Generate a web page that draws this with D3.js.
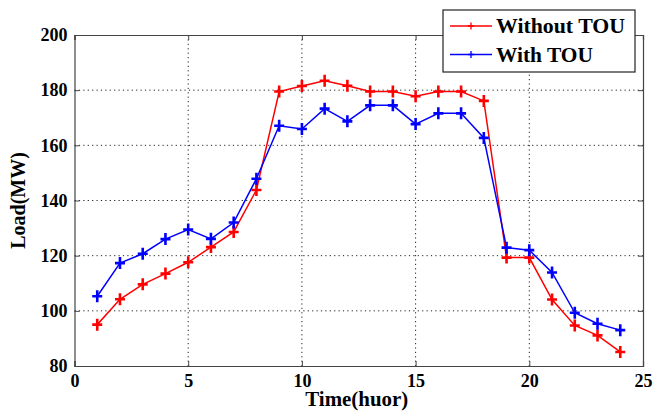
<!DOCTYPE html>
<html><head><meta charset="utf-8">
<script src="https://cdn.jsdelivr.net/npm/d3@7"></script>
<style>body{margin:0;background:#fff}svg{display:block}</style>
</head><body>
<svg id="c" width="653" height="415"></svg>
<script>
const hours = d3.range(1, 25);
const withoutTOU = [95, 104.2, 109.6, 113.5, 117.6, 123.1, 128.6, 143.8, 179.5, 181.5, 183.4, 181.6, 179.5, 179.5, 177.8, 179.5, 179.5, 176.1, 119.3, 119.3, 104.1, 94.7, 91.1, 85.1];
const withTOU = [105.3, 117.3, 120.7, 126.0, 129.5, 126.1, 132.0, 147.9, 167.1, 165.9, 173.3, 168.7, 174.5, 174.5, 167.7, 171.6, 171.6, 162.7, 122.9, 122.0, 113.9, 99.3, 95.3, 93.0];
const xTicks = [0, 5, 10, 15, 20, 25];
const yTicks = [80, 100, 120, 140, 160, 180, 200];
const seriesNames = ["Without TOU", "With TOU"];
const seriesColors = ["#ff0000", "#0000ff"];

const svg = d3.select("#c");
const L = 74.5, R = 643, T = 35, B = 366;
const x = d3.scaleLinear().domain([0, 25]).range([L, R]);
const y = d3.scaleLinear().domain([80, 200]).range([B, T]);
const font = "'Liberation Serif','Times New Roman',serif";

// grid
const g = svg.append("g");
g.selectAll(".gx").data(xTicks.slice(1, -1)).join("line")
  .attr("x1", d => x(d)).attr("x2", d => x(d)).attr("y1", T).attr("y2", B)
  .attr("stroke", "#222").attr("stroke-width", 1).attr("stroke-dasharray", "1.2,3.2");
g.selectAll(".gy").data(yTicks.slice(1, -1)).join("line")
  .attr("y1", d => y(d)).attr("y2", d => y(d)).attr("x1", L).attr("x2", R)
  .attr("stroke", "#222").attr("stroke-width", 1).attr("stroke-dasharray", "1.2,3.2");

// axes
const ax = svg.append("g").attr("transform", `translate(0,${B})`)
  .call(d3.axisBottom(x).tickValues(xTicks).tickSize(-5).tickPadding(8));
const axT = svg.append("g").attr("transform", `translate(0,${T})`)
  .call(d3.axisTop(x).tickValues(xTicks).tickSize(-5).tickFormat(""));
const ay = svg.append("g").attr("transform", `translate(${L},0)`)
  .call(d3.axisLeft(y).tickValues(yTicks).tickSize(-5).tickPadding(7));
const ayR = svg.append("g").attr("transform", `translate(${R},0)`)
  .call(d3.axisRight(y).tickValues(yTicks).tickSize(-5).tickFormat(""));
[ax, axT, ay, ayR].forEach(a => {
  a.select(".domain").attr("stroke", "#444").attr("stroke-width", 1.2);
  a.selectAll(".tick line").attr("stroke", "#444");
  a.selectAll("text").attr("font-family", font).attr("font-weight", "bold")
    .attr("font-size", 18).attr("fill", "#000");
});
ax.selectAll("text").attr("dy", "0.72em");

// lines
const line = d3.line().x((d, i) => x(hours[i])).y(d => y(d));
function plus(sel, color, w) {
  sel.append("path")
    .attr("d", "M-5,0L5,0M0,-6L0,6")
    .attr("stroke", color).attr("stroke-width", w);
}
[withoutTOU, withTOU].forEach((data, k) => {
  svg.append("path").datum(data).attr("d", line)
    .attr("fill", "none").attr("stroke", seriesColors[k]).attr("stroke-width", 1.5);
  svg.append("g").selectAll("g").data(data).join("g")
    .attr("transform", (d, i) => `translate(${x(hours[i])},${y(d)})`)
    .each(function () { plus(d3.select(this), seriesColors[k], 2.6); });
});

// legend
const lg = svg.append("g");
lg.append("rect").attr("x", 443).attr("y", 10).attr("width", 192).attr("height", 62)
  .attr("fill", "#fff").attr("stroke", "#222").attr("stroke-width", 1.2);
seriesNames.forEach((n, k) => {
  const yy = 26 + k * 28.5;
  lg.append("line").attr("x1", 450).attr("x2", 492).attr("y1", yy).attr("y2", yy)
    .attr("stroke", seriesColors[k]).attr("stroke-width", 1.5);
  plus(lg.append("g").attr("transform", `translate(471,${yy}) scale(0.6)`), seriesColors[k], 2.2);
  lg.append("text").attr("x", 496).attr("y", yy).attr("dy", "0.35em")
    .attr("font-family", font).attr("font-weight", "bold").attr("font-size", 21)
    .attr("textLength", k === 0 ? 129 : 97).attr("lengthAdjust", "spacingAndGlyphs")
    .text(n);
});

// axis titles
svg.append("text").attr("x", (L + R) / 2 - 2).attr("y", 406).attr("text-anchor", "middle")
  .attr("font-family", font).attr("font-weight", "bold").attr("font-size", 20)
  .attr("textLength", 103).attr("lengthAdjust", "spacingAndGlyphs").text("Time(huor)");
svg.append("text").attr("transform", `translate(25,${(T + B) / 2}) rotate(-90)`)
  .attr("text-anchor", "middle")
  .attr("font-family", font).attr("font-weight", "bold").attr("font-size", 20).text("Load(MW)");
</script>
</body></html>
